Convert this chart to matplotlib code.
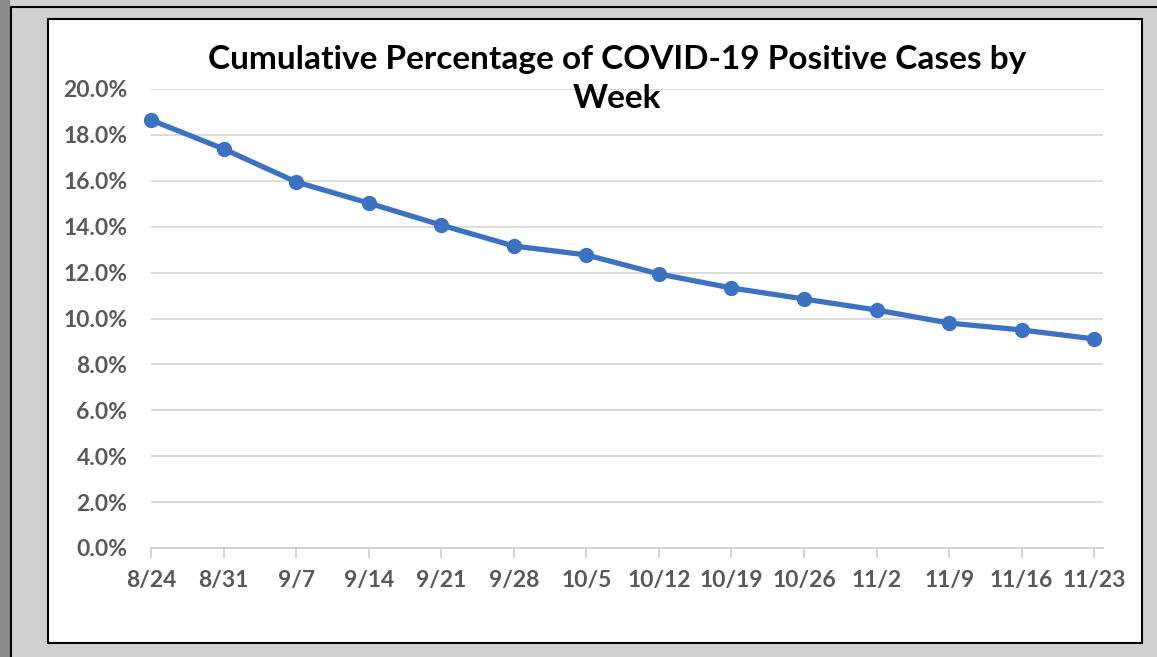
import matplotlib
matplotlib.use("Agg")
import matplotlib.pyplot as plt
from matplotlib.patches import Rectangle
from matplotlib.ticker import PercentFormatter

weeks = ["8/24", "8/31", "9/7", "9/14", "9/21", "9/28", "10/5", "10/12",
         "10/19", "10/26", "11/2", "11/9", "11/16", "11/23"]
pct_positive = [18.65, 17.39, 15.95, 15.03, 14.07, 13.16, 12.77, 11.94,
                11.33, 10.85, 10.37, 9.80, 9.50, 9.11]

plt.rcParams['font.family'] = ['Lato', 'DejaVu Sans']

fig = plt.figure(figsize=(11.57, 6.57), dpi=100)
fig.patch.set_facecolor('#d0d0d0')

# frame decoration: shadow, outer border, inner white panel (behind the axes)
fig.patches.append(Rectangle((0, 0), 10 / 1157, 1, transform=fig.transFigure,
                             facecolor='#8a8a8a', edgecolor='none', zorder=-3))
fig.patches.append(Rectangle((11 / 1157, -0.01), 1.1, 1 - 7 / 657 + 0.01,
                             transform=fig.transFigure, facecolor='none',
                             edgecolor='black', linewidth=1.5, zorder=-2))
fig.patches.append(Rectangle((48 / 1157, 1 - 643 / 657), (1142 - 48) / 1157,
                             (643 - 19) / 657, transform=fig.transFigure,
                             facecolor='white', edgecolor='black',
                             linewidth=1.5, zorder=-1))

ax = fig.add_axes([151 / 1157, 1 - 548 / 657, (1103 - 151) / 1157, (548 - 89) / 657])
ax.set_facecolor('none')

x = list(range(len(weeks)))
ax.plot(x, pct_positive, color='#3d72c2', linewidth=3.8, marker='o',
        markersize=10, zorder=3, clip_on=False)

ax.set_xlim(0, 13.12)
ax.set_ylim(0, 20)
ax.set_yticks([i * 2 for i in range(11)])
ax.yaxis.set_major_formatter(PercentFormatter(decimals=1))
ax.set_xticks(x)
ax.set_xticklabels(weeks)

ax.grid(axis='y', color='#d9d9d9', linewidth=1.3)
ax.set_axisbelow(True)
for side in ['top', 'right', 'left']:
    ax.spines[side].set_visible(False)
ax.spines['bottom'].set_color('#d0d0d0')
ax.spines['bottom'].set_linewidth(1.3)

ax.tick_params(axis='y', length=0, pad=17, labelsize=16.5, labelcolor='#595959')
ax.tick_params(axis='x', length=7, width=1.3, color='#d0d0d0', pad=9,
               labelsize=16.5, labelcolor='#595959')
for lab in ax.get_xticklabels() + ax.get_yticklabels():
    lab.set_fontweight('bold')

fig.text(617 / 1157, 1 - 79 / 657,
         "Cumulative Percentage of COVID-19 Positive Cases by\nWeek",
         ha='center', va='center', fontsize=24, fontweight='bold',
         color='black', linespacing=1.4)

fig.savefig('out.png', dpi=100, facecolor=fig.get_facecolor())
plt.close(fig)
